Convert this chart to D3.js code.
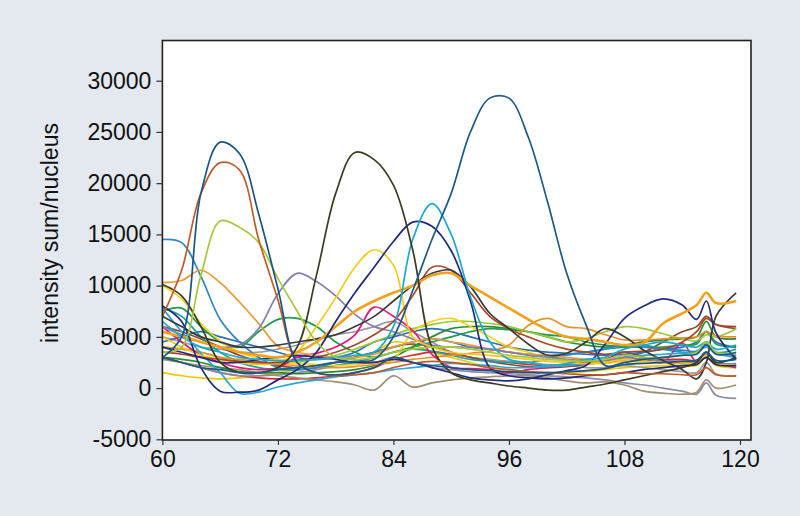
<!DOCTYPE html>
<html>
<head>
<meta charset="utf-8">
<script src="https://cdn.jsdelivr.net/npm/d3@7"></script>
<style>
  body { margin: 0; background: #e3e9ee; }
  #chart { width: 800px; height: 516px; }
</style>
</head>
<body>
<div id="chart"></div>
<script>
// time points (x axis)
var times = [60, 62, 64, 66, 68, 70, 72, 74, 76, 78, 80, 82, 84, 86, 88, 90, 92, 94, 96, 98,
             100, 102, 104, 106, 108, 110, 112, 114, 115.5, 116.5, 117.5, 119.6];

var xTicks = [60, 72, 84, 96, 108, 120];
var yTicks = [-5000, 0, 5000, 10000, 15000, 20000, 25000, 30000];

// one array per nucleus (intensity sum)
var bigBlue   = [3000,2500,2000,1800,1500,1500,1800,2000,2200,2500,2600,2800,5000,9500,14500,19000,25000,28300,28300,24500,18200,11200,6200,2200,2500,2800,3000,3200,3300,4200,3300,3500];
var blue66    = [3000,5000,19000,24000,22900,17000,9700,2500,1500,1300,1500,2000,3000,2500,2200,2000,1800,1700,1600,1500,1500,1600,1700,1900,2300,2400,2500,2600,2700,3500,2700,2800];
var rust66    = [7000,11500,19000,22000,21300,14500,8600,2500,1500,1200,1300,1500,2000,2400,2600,2500,2300,2000,1800,1600,1500,1400,1300,1300,1500,1400,1400,1300,1300,2000,1300,1200];
var lime66    = [3500,4000,11000,16300,15700,14200,10700,7500,4500,3000,2800,3000,3500,3800,4000,4000,3800,3500,3200,3000,2800,2700,2600,2800,3200,3000,3000,3200,3500,4500,3500,3400];
var olive80   = [10100,9000,6000,2500,1500,1500,2000,4000,11000,19000,23000,22300,19800,13500,4000,1500,800,500,200,0,-200,-200,100,400,800,1200,1600,2000,2500,3500,2500,3000];
var cyan88    = [6500,5000,4000,3500,3000,2800,2700,2700,2800,3000,3200,3500,6000,14500,18000,15000,8900,4500,2800,2500,2200,2400,2800,3000,3800,4200,4500,4200,4000,4500,3800,4200];
var navy86    = [8000,6500,2000,-300,-400,-200,800,1800,3500,6500,9300,11800,14300,16200,15800,13400,8500,2000,1200,1000,900,1000,1200,1300,1500,1800,2000,2200,2300,3000,2300,2200];
var navyLate  = [4000,3500,3000,2500,2500,2800,3000,3200,3000,2800,2500,2500,2800,2500,2000,1500,1000,800,700,900,1300,1700,2200,4300,6800,8000,8700,8100,6700,8500,5400,2800];
var orangeBold= [5500,5000,4500,4000,3500,3200,3000,3500,4500,6000,7500,8500,9300,10000,11000,11200,10000,8900,7800,6700,5700,5000,4800,4500,4200,4400,6300,7300,8100,9300,8300,8500];
var brown88   = [3500,3300,3000,2800,2600,2500,2500,2700,3000,3500,4200,5200,6500,9000,11800,11500,9300,7000,5800,5000,4300,3800,3500,3300,3500,3600,3800,4500,5500,6800,6200,6000];
var yellow82  = [5000,4000,3200,2800,2500,2300,2500,3500,6000,8800,11800,13500,12000,5000,4000,3500,3300,3200,3000,2800,2600,2500,2400,2500,2800,2600,2500,2500,2400,3200,2400,2200];
var slate74   = [6000,5200,4500,4000,4200,5800,9200,11200,10400,9000,7200,6000,5500,4800,4200,4000,4000,3800,3500,3200,3000,2800,2700,2700,3000,2800,2700,2600,2600,3300,2500,2400];
var skyStart  = [14500,14200,10900,6700,4500,3000,2000,1800,2000,2500,3000,3500,4000,4500,4800,4500,4000,3800,3500,3300,3200,3300,3500,3800,4200,4000,3800,3700,3600,4300,3500,3200];
var cyanDip   = [7800,5500,3400,1500,-500,-400,100,500,800,1100,1300,1500,1800,2000,2200,2400,2300,2200,2000,2000,2100,2200,2400,2600,3000,3200,3300,3400,3500,4000,3400,3000];
var magenta   = [6000,4500,3200,2500,2000,1800,2000,3000,3400,4000,5200,7900,7000,5600,3300,2000,1900,1800,1500,1800,2000,2200,2500,2500,2800,2800,2500,4400,2500,3000,2500,2000];
var orange64  = [10300,10500,11500,10300,8400,6300,4100,3500,3200,3000,3000,3300,4000,4500,4800,4500,4200,3800,3500,3300,3200,3000,2800,2600,2800,2600,2500,2400,2400,3000,2300,2200];
var darkGray  = [7000,6000,5000,4500,4000,4000,4200,4500,4800,5200,6000,7000,8500,10000,11200,11500,9900,7300,5800,4300,3200,3400,4500,5800,5000,3700,2700,1800,900,2500,7000,9300];
var orange99  = [4000,3800,3500,3000,2800,2500,2300,2200,2000,2000,2100,2300,2500,2800,3000,3200,3400,3600,4200,6100,6800,6000,5800,5200,4700,4700,4800,4900,5000,5500,5100,5000];
var green1    = [7500,7800,6000,4500,4000,5500,6700,6800,6000,4500,3500,3000,3500,4000,4500,5000,5500,5800,5700,5500,5200,5000,4500,4200,4000,4000,4000,4200,4300,5500,4300,4000];
var green2    = [3000,2800,2500,2000,1600,1500,1500,1400,1500,1600,1800,2200,3000,4000,5000,5800,6000,6000,5800,5500,5000,4500,4200,4000,4200,4500,4700,4800,5000,6500,5000,4800];
var lime2     = [4000,3800,3500,3000,2600,2400,2400,2500,2800,3200,3800,4500,5200,5800,6200,6500,6500,6300,6000,5500,5000,4500,4800,5500,6000,5800,5300,4800,4600,5200,5000,5800];
var taupe     = [2800,2500,2200,2000,1800,1500,1200,1000,800,600,300,-200,1200,100,500,800,1000,1100,1200,1200,1000,700,500,600,300,-300,-500,-600,-400,800,0,300];
var slateLow  = [3000,2500,2000,1500,1200,1200,1300,1500,1800,2200,2500,2500,3000,2500,2000,1800,1600,1500,1400,1300,1200,1100,1000,800,500,300,0,-300,-600,500,-700,-1000];
var red1      = [3000,2500,2000,1500,1200,1000,900,900,1000,1200,1500,2000,2800,3200,3500,3300,3000,2700,2500,2300,2200,2300,2500,2800,3500,3000,2800,2800,2700,3300,2500,2300];
var teal1     = [7800,7000,5000,3500,2500,2000,1800,1800,2000,2200,2500,3000,3500,3800,3600,3200,2800,2600,2500,2500,2800,3200,3500,3800,4000,4200,3800,3500,3500,4500,3500,3800];
var yellow2   = [10000,8700,6300,4600,3500,2900,2600,2400,2300,2200,2300,2500,2800,5500,6500,6800,6000,5000,4000,3500,3000,2600,2400,2400,2600,2500,2500,2500,2500,3200,2500,2300];
var gray1     = [5000,4500,4000,3800,3500,3500,3800,4200,4800,5200,5500,6000,6500,5500,4500,3500,3000,2800,2600,2500,2300,2200,2000,2000,2200,2000,1800,1600,1500,2500,1400,1200];
var midBlue   = [4500,5000,5500,5000,4500,4000,3500,3000,2800,3000,3500,4500,5000,5500,5800,5500,5000,4500,4000,3700,3500,3400,3300,3200,3300,3500,3800,4000,4500,5500,4500,4000];
var brown2    = [6000,5500,4800,4000,3200,2600,2200,2000,2200,2500,3000,3500,4000,4300,4000,3500,3000,2600,2300,2100,2000,2100,2300,2600,3000,3500,4500,5500,6000,7000,6200,5800];
var yellow3   = [1500,1200,1000,900,1000,1200,1500,1800,2200,2500,3000,3500,4500,4200,3500,3000,2500,2000,1800,1600,1500,1500,1600,1800,2000,2100,2200,2200,2200,3000,2200,2000];

// drawing order: background tangle first, the big peaks on top
var seriesList = [yellow3, red1, slateLow, taupe, gray1, brown2, midBlue, teal1, green2, green1, lime2,
                  yellow2, orange99, magenta, cyanDip, skyStart, orange64, slate74, yellow82, brown88,
                  darkGray, navyLate, orangeBold, navy86, cyan88, olive80, lime66, rust66, blue66, bigBlue];
var seriesColors = ["#f0c900", "#d42b2b", "#8b8cab", "#a28e70", "#9b9b9b", "#8c4b2c", "#2b70b2", "#1ca19f", "#2b8b31", "#1f9b4b", "#98c93c",
                    "#f6d318", "#e8912c", "#e2187c", "#27a9de", "#2f86c6", "#e99a35", "#7f80ae", "#f1cb1b", "#a9472a",
                    "#3b3b3b", "#262b80", "#f3a11d", "#1f2a7a", "#1ba8d3", "#3c3c1e", "#a7c739", "#c25b28", "#1b5586", "#1d5a84"];

function renderChart() {
    var width = 800, height = 516;

    var svg = d3.select("#chart")
        .append("svg")
        .attr("width", width)
        .attr("height", height);

    svg.append("rect")
        .attr("width", width)
        .attr("height", height)
        .attr("fill", "#e3e9ee");

    var left = 162.4, right = 751, top = 40.5, bottom = 440;

    var xScale = d3.scaleLinear().domain([60, 120]).range([left, 740]);
    var yScale = d3.scaleLinear().domain([-5000, 30000]).range([439.3, 80.7]);

    // plot area
    svg.append("rect")
        .attr("x", left)
        .attr("y", top)
        .attr("width", right - left)
        .attr("height", bottom - top)
        .attr("fill", "#ffffff");

    var line = d3.line()
        .x(function (d) { return xScale(d[0]); })
        .y(function (d) { return yScale(d[1]); })
        .curve(d3.curveCatmullRom.alpha(0.5));

    var g = svg.append("g");
    seriesList.forEach(function (s, i) {
        var pts = times.map(function (t, j) { return [t, s[j]]; });
        g.append("path")
            .datum(pts)
            .attr("fill", "none")
            .attr("stroke", seriesColors[i])
            .attr("stroke-width", s === orangeBold ? 2.6 : 1.7)
            .attr("stroke-linejoin", "round")
            .attr("d", line);
    });

    // frame
    svg.append("rect")
        .attr("x", left)
        .attr("y", top)
        .attr("width", right - left)
        .attr("height", bottom - top)
        .attr("fill", "none")
        .attr("stroke", "#222")
        .attr("stroke-width", 1.6);

    var xAxis = svg.append("g")
        .attr("transform", "translate(0," + bottom + ")")
        .call(d3.axisBottom(xScale).tickValues(xTicks).tickSize(5).tickPadding(6));
    xAxis.select(".domain").remove();

    var yAxis = svg.append("g")
        .attr("transform", "translate(" + left + ",0)")
        .call(d3.axisLeft(yScale).tickValues(yTicks).tickSize(6).tickPadding(5)
            .tickFormat(function (d) { return String(d); }));
    yAxis.select(".domain").remove();

    svg.selectAll(".tick line").attr("stroke", "#333").attr("stroke-width", 1.2);
    svg.selectAll(".tick text")
        .attr("fill", "#111")
        .style("font-family", "'Liberation Sans', Arial, sans-serif")
        .style("font-size", "23px");

    svg.append("text")
        .attr("transform", "translate(58,233)rotate(-90)")
        .attr("text-anchor", "middle")
        .style("font-family", "'Liberation Sans', Arial, sans-serif")
        .style("font-size", "23px")
        .attr("fill", "#111")
        .text("intensity sum/nucleus");
}

renderChart()
</script>
</body>
</html>
